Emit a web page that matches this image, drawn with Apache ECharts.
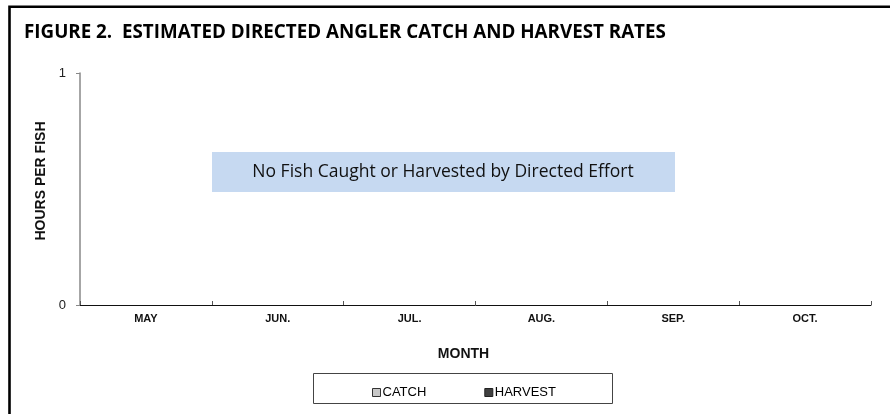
<!DOCTYPE html>
<html>
<head>
<meta charset="utf-8">
<script src="https://cdn.jsdelivr.net/npm/echarts@6/dist/echarts.min.js"></script>
<style>
  html, body { margin: 0; padding: 0; background: #fff; }
  #chart { width: 890px; height: 414px; }
</style>
</head>
<body>
<div id="chart"></div>
<script>
/* ── Data ─────────────────────────────────────────────── */
const months = ['MAY', 'JUN.', 'JUL.', 'AUG.', 'SEP.', 'OCT.'];
const catchRate = [0, 0, 0, 0, 0, 0];
const harvestRate = [0, 0, 0, 0, 0, 0];
const yTicks = { min: 0, max: 1, interval: 1 };
const note = 'No Fish Caught or Harvested by Directed Effort';

/* ── Chart ────────────────────────────────────────────── */
(function buildRateChart() {
  const el = document.getElementById('chart');
  const chart = echarts.init(el, null, { renderer: 'canvas' });

  const axisFont = 'Liberation Sans, Arial, sans-serif';
  const docFont = 'Open Sans, Noto Sans, sans-serif';

  const option = {
    backgroundColor: '#fff',
    animation: false,
    title: {
      text: 'FIGURE 2.  ESTIMATED DIRECTED ANGLER CATCH AND HARVEST RATES',
      left: 19,
      top: 18,
      textStyle: { fontFamily: docFont, fontWeight: 'bold', fontSize: 18.8, color: '#000' }
    },
    grid: { left: 80, right: 19, top: 73, bottom: 109 },
    legend: {
      left: 367,
      top: 381,
      itemWidth: 8,
      itemHeight: 8,
      itemGap: 58,
      icon: 'rect',
      textStyle: { fontFamily: axisFont, fontSize: 13, color: '#000', padding: [0, 0, 0, -3] },
      data: [
        { name: 'CATCH', itemStyle: { color: '#c8c8c8', borderColor: '#333', borderWidth: 1 } },
        { name: 'HARVEST', itemStyle: { color: '#404040', borderColor: '#222', borderWidth: 1 } }
      ]
    },
    xAxis: {
      type: 'category',
      data: months,
      name: 'MONTH',
      nameLocation: 'middle',
      nameGap: 42,
      nameTextStyle: { fontFamily: axisFont, fontWeight: 'bold', fontSize: 14, color: '#111', padding: [0, 24, 0, 0] },
      axisLine: { lineStyle: { color: '#111', width: 1 } },
      axisTick: { show: true, inside: true, length: 4, lineStyle: { color: '#555' } },
      axisLabel: { fontFamily: axisFont, fontWeight: 'bold', fontSize: 11, color: '#111', margin: 8 }
    },
    yAxis: {
      type: 'value',
      min: yTicks.min,
      max: yTicks.max,
      interval: yTicks.interval,
      name: 'HOURS PER FISH',
      nameLocation: 'middle',
      nameGap: 31,
      nameRotate: 90,
      nameTextStyle: { fontFamily: axisFont, fontWeight: 'bold', fontSize: 14, color: '#111', padding: [0, 0, 0, 16] },
      splitLine: { show: false },
      axisLine: { show: true, lineStyle: { color: '#888', width: 1.5 } },
      axisTick: { show: true, length: 4, lineStyle: { color: '#888' } },
      axisLabel: { fontFamily: axisFont, fontSize: 13, color: '#222', margin: 14 }
    },
    series: [
      {
        name: 'CATCH',
        type: 'bar',
        data: catchRate,
        barGap: '0%',
        itemStyle: { color: '#c8c8c8' }
      },
      {
        name: 'HARVEST',
        type: 'bar',
        data: harvestRate,
        itemStyle: { color: '#404040' }
      }
    ],
    graphic: [
      // outer frame (cropped on right and bottom)
      {
        type: 'rect',
        shape: { x: 9.5, y: 6.8, width: 900, height: 430 },
        style: { fill: null, stroke: '#000', lineWidth: 2.6 },
        silent: true
      },
      // note box
      {
        type: 'rect',
        shape: { x: 212, y: 152, width: 463, height: 40 },
        style: { fill: '#c6d9f1' },
        silent: true,
        z: 10
      },
      {
        type: 'text',
        x: 443,
        y: 172,
        style: {
          text: note,
          fontFamily: docFont,
          fontSize: 17.5,
          fill: '#111',
          align: 'center',
          verticalAlign: 'middle'
        },
        silent: true,
        z: 11
      },
      // legend frame
      {
        type: 'rect',
        shape: { x: 313.5, y: 373.5, width: 299, height: 30 },
        style: { fill: null, stroke: '#444', lineWidth: 1 },
        silent: true
      }
    ]
  };

  chart.setOption(option);
  window.addEventListener('resize', () => chart.resize());
})();
</script>
</body>
</html>
